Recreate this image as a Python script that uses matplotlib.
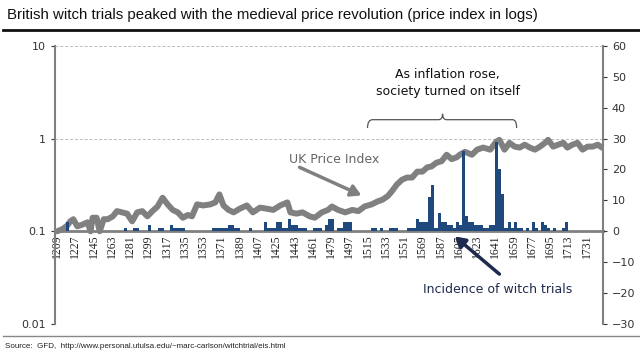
import matplotlib.pyplot as plt
from matplotlib.path import Path
from matplotlib.patches import PathPatch
from matplotlib.ticker import FixedLocator, FixedFormatter, NullLocator

# UK price index (log scale)
price_years = [1209, 1214, 1219, 1222, 1225, 1229, 1234, 1239, 1242, 1244, 1248, 1251,
               1255, 1259, 1264, 1268, 1273, 1278, 1283, 1288, 1293, 1298, 1303, 1308,
               1313, 1318, 1323, 1328, 1333, 1338, 1342, 1347, 1353, 1360, 1365, 1369,
               1373, 1378, 1383, 1389, 1396, 1402, 1409, 1416, 1422, 1429, 1436, 1439,
               1445, 1451, 1458, 1463, 1470, 1476, 1480, 1486, 1493, 1500, 1506, 1512,
               1519, 1525, 1530, 1535, 1539, 1544, 1549, 1554, 1559, 1564, 1569, 1574,
               1578, 1583, 1588, 1593, 1598, 1603, 1606, 1611, 1618, 1623, 1629, 1636,
               1642, 1645, 1650, 1655, 1660, 1665, 1670, 1675, 1680, 1685, 1690, 1693,
               1698, 1703, 1708, 1712, 1717, 1722, 1727, 1732, 1737, 1742, 1746]
price_index = [0.100, 0.105, 0.115, 0.128, 0.135, 0.113, 0.118, 0.125, 0.100, 0.140, 0.140, 0.100,
               0.135, 0.135, 0.145, 0.165, 0.160, 0.155, 0.128, 0.160, 0.165, 0.145, 0.165, 0.185,
               0.230, 0.195, 0.170, 0.160, 0.140, 0.150, 0.145, 0.195, 0.190, 0.195, 0.205, 0.250,
               0.190, 0.170, 0.160, 0.175, 0.190, 0.160, 0.180, 0.175, 0.170, 0.190, 0.205, 0.160,
               0.155, 0.160, 0.145, 0.140, 0.160, 0.170, 0.185, 0.170, 0.160, 0.170, 0.165, 0.185,
               0.195, 0.210, 0.220, 0.240, 0.270, 0.320, 0.360, 0.380, 0.380, 0.440, 0.440, 0.490,
               0.500, 0.550, 0.570, 0.670, 0.600, 0.630, 0.670, 0.720, 0.670, 0.760, 0.800, 0.760,
               0.930, 0.970, 0.760, 0.900, 0.820, 0.800, 0.860, 0.800, 0.760, 0.820, 0.900, 0.970,
               0.820, 0.860, 0.900, 0.800, 0.860, 0.900, 0.760, 0.820, 0.820, 0.860, 0.800]

# witch trials (3-year bins, start year)
trial_years = [1218, 1275, 1284, 1287, 1299, 1308, 1311, 1320, 1323, 1326, 1329, 1332,
               1362, 1365, 1368, 1371, 1374, 1377, 1380, 1383, 1386, 1398, 1413, 1416,
               1419, 1422, 1425, 1428, 1431, 1434, 1437, 1440, 1443, 1446, 1449, 1452,
               1461, 1464, 1467, 1473, 1476, 1479, 1485, 1488, 1491, 1494, 1497, 1518,
               1521, 1527, 1536, 1539, 1542, 1554, 1557, 1560, 1563, 1566, 1569, 1572,
               1575, 1578, 1581, 1584, 1587, 1590, 1593, 1596, 1599, 1602, 1605, 1608,
               1611, 1614, 1617, 1620, 1623, 1626, 1629, 1632, 1635, 1638, 1641, 1644,
               1647, 1650, 1653, 1656, 1659, 1662, 1665, 1671, 1677, 1680, 1686, 1689,
               1692, 1698, 1707, 1710]
trial_counts = [3, 1, 1, 1, 2, 1, 1, 2, 1, 1, 1, 1,
                1, 1, 1, 1, 1, 2, 2, 1, 1, 1, 3, 1,
                1, 1, 3, 3, 1, 1, 4, 2, 2, 1, 1, 1,
                1, 1, 1, 2, 4, 4, 1, 1, 3, 3, 3, 1,
                1, 1, 1, 1, 1, 1, 1, 1, 4, 3, 3, 3,
                11, 15, 1, 6, 3, 3, 2, 2, 1, 3, 2, 26,
                5, 3, 3, 2, 2, 2, 1, 1, 2, 2, 29, 20,
                12, 1, 3, 1, 3, 1, 1, 1, 3, 1, 3, 2,
                1, 1, 1, 3]

year_ticks = [1209, 1227, 1245, 1263, 1281, 1299, 1317, 1335, 1353, 1371, 1389, 1407,
              1425, 1443, 1461, 1479, 1497, 1515, 1533, 1551, 1569, 1587, 1605, 1623,
              1641, 1659, 1677, 1695, 1713, 1731]

grey = '#808080'
navy = '#1F497D'
arrow_navy = '#1F2A4F'

fig = plt.figure(figsize=(6.4, 3.56), dpi=100)
ax = fig.add_axes([0.086, 0.090, 0.856, 0.781])

# price line (left, log)
ax.plot(price_years, price_index, color=grey, linewidth=4.3, solid_joinstyle='round',
        solid_capstyle='round', zorder=3)
ax.set_yscale('log')
ax.set_ylim(0.01, 10)
ax.set_xlim(1207, 1747)
ax.yaxis.set_major_locator(FixedLocator([0.01, 0.1, 1, 10]))
ax.yaxis.set_major_formatter(FixedFormatter(['0.01', '0.1', '1', '10']))
ax.yaxis.set_minor_locator(NullLocator())
ax.tick_params(axis='y', labelsize=8, colors='#333333', length=3, width=0.8)
for y in [0.01, 1, 10]:
    ax.axhline(y, color='#BBBBBB', linestyle=(0, (3, 2)), linewidth=0.7, zorder=1)

ax.spines['top'].set_visible(False)
ax.spines['right'].set_visible(False)
ax.spines['left'].set_color(grey)
ax.spines['left'].set_linewidth(1.5)
ax.spines['bottom'].set_position(('data', 0.1))
ax.spines['bottom'].set_color(grey)
ax.spines['bottom'].set_linewidth(2)
ax.spines['bottom'].set_zorder(6)
ax.set_xticks(year_ticks)
ax.set_xticklabels([str(y) for y in year_ticks], rotation=90, fontsize=8.5,
                   family='Liberation Serif', color='#222222')
ax.tick_params(axis='x', length=0, pad=2)

# witch trials (right axis)
ax2 = ax.twinx()
ax2.bar(trial_years, trial_counts, width=3, align='edge', color=navy, linewidth=0, zorder=4)
ax2.set_ylim(-30, 60)
ax2.set_yticks(range(-30, 61, 10))
ax2.tick_params(axis='y', labelsize=8, colors='#333333', length=3, width=0.8)
for s in ['top', 'left', 'bottom']:
    ax2.spines[s].set_visible(False)
ax2.spines['right'].set_color(grey)
ax2.spines['right'].set_linewidth(1.5)

# annotations
arrow_style = '-|>,head_length=0.6,head_width=0.35'
ax.text(1482, 0.60, 'UK Price Index', ha='center', va='center', fontsize=9, color='#666666')
ax.annotate('', xy=(1509, 0.244), xytext=(1448, 0.49),
            arrowprops=dict(arrowstyle=arrow_style, color=grey, linewidth=2.5,
                            shrinkA=0, shrinkB=0))
ax.text(1643, 0.0235, 'Incidence of witch trials', ha='center', va='center',
        fontsize=9, color=arrow_navy)
ax.annotate('', xy=(1601, 0.088), xytext=(1645, 0.0345),
            arrowprops=dict(arrowstyle=arrow_style, color=arrow_navy, linewidth=2.5,
                            shrinkA=0, shrinkB=0))
ax.text(1594, 4.0, 'As inflation rose,\nsociety turned on itself', ha='center', va='center',
        fontsize=9, color='#111111', linespacing=1.4)

# brace
verts = [(1515, 1.30), (1515, 1.60), (1520, 1.60), (1585, 1.60), (1589, 1.60), (1589, 1.85),
         (1589, 1.60), (1593, 1.60), (1658, 1.60), (1662, 1.60), (1662, 1.30)]
codes = [Path.MOVETO, Path.CURVE3, Path.CURVE3, Path.LINETO, Path.CURVE3, Path.CURVE3,
         Path.CURVE3, Path.CURVE3, Path.LINETO, Path.CURVE3, Path.CURVE3]
ax.add_patch(PathPatch(Path(verts, codes), facecolor='none', edgecolor='#555555', linewidth=0.9))

# title and source
fig.text(0.011, 0.958, 'British witch trials peaked with the medieval price revolution (price index in logs)',
         fontsize=10.8, family='Liberation Sans', va='center', color='#111111')
fig.add_artist(plt.Line2D([0.005, 1.0], [0.917, 0.917], color='#111111', linewidth=2))
fig.add_artist(plt.Line2D([0.005, 1.0], [0.057, 0.057], color='#888888', linewidth=1))
fig.text(0.008, 0.027, 'Source:  GFD,  http://www.personal.utulsa.edu/~marc-carlson/witchtrial/eis.html',
         fontsize=5.8, family='Liberation Sans', va='center', color='#222222')

plt.savefig('out.png', dpi=100)
